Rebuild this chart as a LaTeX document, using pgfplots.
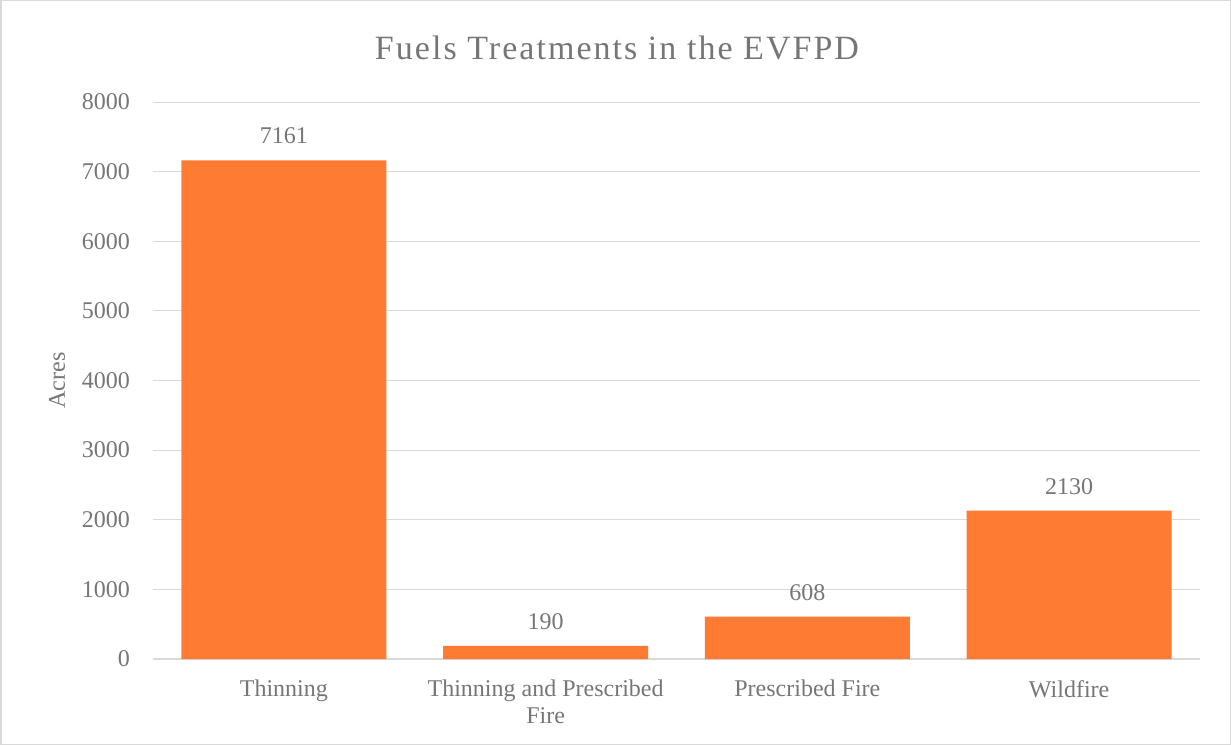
\documentclass[border=0pt]{standalone}
\usepackage{fontspec}
\setmainfont{Liberation Serif}
\usepackage{pgfplots}
\pgfplotsset{compat=1.18}
\definecolor{txt}{HTML}{767676}
\definecolor{barc}{HTML}{FD7B33}
\definecolor{gridc}{HTML}{D9D9D9}
\begin{document}
\begin{tikzpicture}[x=1pt,y=1pt]
\draw[gridc, line width=1.5pt] (0.75,0.75) rectangle (1230.25,744.25);
\node[txt, inner sep=0pt, font=\fontsize{34}{40}\selectfont\addfontfeatures{LetterSpace=6}] at (617,697) {Fuels Treatments in the EVFPD};
\begin{axis}[
  at={(153pt,86pt)}, anchor=south west,
  scale only axis, width=1047pt, height=557pt,
  ymin=0, ymax=8000, xmin=-0.5, xmax=3.5,
  ytick={0,1000,...,8000},
  xtick={0,1,2,3},
  xticklabels={Thinning,{Thinning and Prescribed\\Fire},Prescribed Fire,Wildfire},
  major tick length=0pt,
  axis lines*=left,
  y axis line style={draw=none},
  x axis line style={gridc, line width=1.2pt},
  ymajorgrids,
  grid style={gridc, line width=1pt},
  /pgf/number format/assume math mode=true,
  /pgf/number format/1000 sep={},
  tick label style={txt, inner sep=0pt, font=\fontsize{24}{27}\selectfont},
  yticklabel style={xshift=-23pt},
  xticklabel style={align=center, yshift=-21pt},
  every axis y label/.style={at={(axis description cs:-0.0917,0.5)}, rotate=90, anchor=center, txt, font=\fontsize{24}{27}\selectfont},
  ylabel={Acres},
  ybar, bar width=205pt,
  nodes near coords,
  every node near coord/.append style={txt, inner sep=0pt, anchor=south, yshift=16pt, font=\fontsize{24}{27}\selectfont},
  clip=false,
]
\addplot[fill=barc, draw=none] coordinates {(0,7161) (1,190) (2,608) (3,2130)};
\end{axis}
\end{tikzpicture}
\end{document}
